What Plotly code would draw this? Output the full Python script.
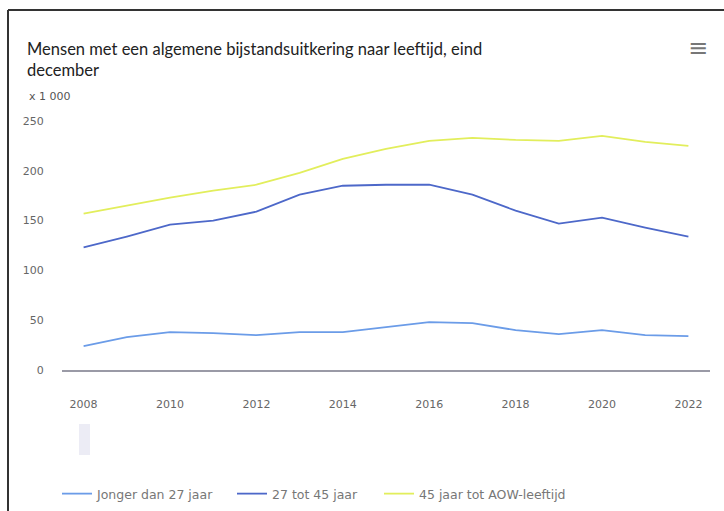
import plotly.graph_objects as go

years = list(range(2008, 2023))
jonger_27 = [24, 33, 38, 37, 35, 38, 38, 43, 48, 47, 40, 36, 40, 35, 34]
tot_45 = [123, 134, 146, 150, 159, 176, 185, 186, 186, 176, 160, 147, 153, 143, 134]
tot_aow = [157, 165, 173, 180, 186, 198, 212, 222, 230, 233, 231, 230, 235, 229, 225]

series_names = ["Jonger dan 27 jaar", "27 tot 45 jaar", "45 jaar tot AOW-leeftijd"]
series_colors = ["#6b9ce8", "#4d68c9", "#e2ee5c"]
x_ticks = list(range(2008, 2023, 2))
y_ticks = [0, 50, 100, 150, 200, 250]

W, H = 724, 511
ML, MR, MT, MB = 62, 14, 121, 141
TITLE_FONT = "Lato, Roboto, sans-serif"
FONT = "DejaVu Sans, sans-serif"

def px(x):
    return (x - ML) / (W - ML - MR)

def py(y):
    return (H - MB - y) / (H - MT - MB)

legend_ids = ["legend", "legend2", "legend3"]
legend_x = [57, 232, 379]

fig = go.Figure()
for name, vals, col, lid in zip(series_names, [jonger_27, tot_45, tot_aow], series_colors, legend_ids):
    fig.add_trace(go.Scatter(x=years, y=vals, name=name, mode="lines",
                             line=dict(color=col, width=1.8), legend=lid))

legend_common = dict(orientation="h", xanchor="left", yanchor="middle",
                     xref="container", yref="container", y=1 - 494 / H,
                     font=dict(size=12.5, color="#777", family=FONT), itemwidth=30,
                     bgcolor="rgba(0,0,0,0)")

fig.update_layout(
    width=W, height=H,
    margin=dict(l=ML, r=MR, t=MT, b=MB, autoexpand=False),
    paper_bgcolor="white", plot_bgcolor="white",
    font=dict(family=FONT, color="#666"),
    title=dict(text="Mensen met een algemene bijstandsuitkering naar leeftijd, eind<br>december",
               x=27 / W, xref="container", xanchor="left", y=1 - 55 / H, yref="container",
               yanchor="top",
               font=dict(family=TITLE_FONT, size=16.5, color="#222")),
    xaxis=dict(range=[2007.5, 2022.5], tickvals=x_ticks, showgrid=False, zeroline=False,
               showline=True, linecolor="#9a9aa6", linewidth=2, automargin=False,
               ticks="outside", ticklen=23, tickcolor="rgba(0,0,0,0)",
               tickfont=dict(size=11, color="#666")),
    yaxis=dict(range=[0, 250], tickvals=y_ticks, showgrid=False, zeroline=False,
               automargin=False,
               ticks="outside", ticklen=15, tickcolor="rgba(0,0,0,0)",
               tickfont=dict(size=11, color="#666")),
    legend=dict(legend_common, x=legend_x[0] / W),
    legend2=dict(legend_common, x=legend_x[1] / W),
    legend3=dict(legend_common, x=legend_x[2] / W),
    showlegend=True,
    shapes=[
        dict(type="line", xref="paper", yref="paper", x0=px(8), x1=px(8), y0=py(10), y1=py(530),
             line=dict(color="#333", width=2)),
        dict(type="line", xref="paper", yref="paper", x0=px(8), x1=px(740), y0=py(10), y1=py(10),
             line=dict(color="#333", width=2)),
        dict(type="rect", xref="paper", yref="paper", x0=px(79), x1=px(90), y0=py(455), y1=py(424),
             line=dict(width=0), fillcolor="rgba(200,200,225,0.35)"),
    ],
    annotations=[
        dict(text="x 1 000", xref="paper", yref="paper", x=px(27), y=py(97),
             xanchor="left", yanchor="middle", showarrow=False,
             font=dict(size=11, color="#555")),
        dict(text="≡", xref="paper", yref="paper", x=px(698), y=py(48),
             xanchor="center", yanchor="middle", showarrow=False,
             font=dict(size=24, color="#777")),
    ],
)

fig.write_html("out.html")
